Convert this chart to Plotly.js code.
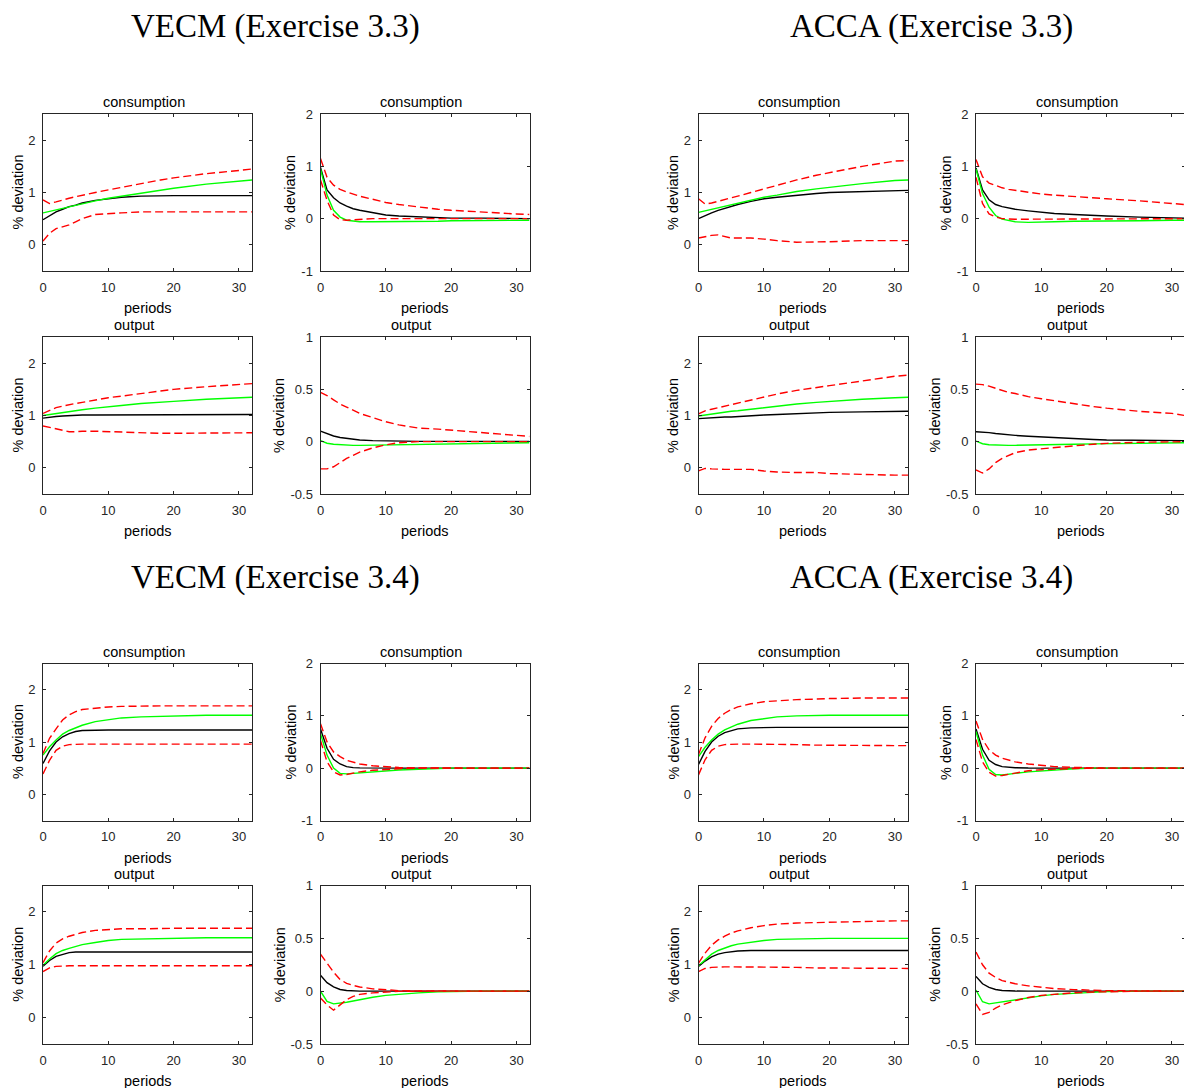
<!DOCTYPE html>
<html>
<head>
<meta charset="utf-8">
<script src="https://cdn.plot.ly/plotly-3.0.1.min.js"></script>
<style>
  html, body { margin: 0; padding: 0; overflow: hidden; background: #ffffff; }
  #chart { width: 1190px; height: 1088px; }
</style>
</head>
<body>
<div id="chart"></div>
<script>
// Impulse-response horizon (periods after the shock)
const periods = [0, 1, 2, 3, 4, 5, 6, 8, 10, 12, 15, 18, 20, 25, 30, 32];

// ---- VECM, Exercise 3.3 ----
const vecm33_consPerm_est   = [0.48, 0.56, 0.63, 0.68, 0.73, 0.76, 0.80, 0.85, 0.88, 0.91, 0.93, 0.94, 0.94, 0.94, 0.94, 0.94];
const vecm33_consPerm_model = [0.61, 0.64, 0.67, 0.70, 0.73, 0.76, 0.78, 0.84, 0.89, 0.93, 0.99, 1.05, 1.08, 1.16, 1.22, 1.24];
const vecm33_consPerm_hi    = [0.86, 0.79, 0.82, 0.86, 0.89, 0.92, 0.95, 1.00, 1.05, 1.10, 1.17, 1.24, 1.28, 1.36, 1.42, 1.45];
const vecm33_consPerm_lo    = [0.07, 0.22, 0.31, 0.35, 0.38, 0.44, 0.50, 0.58, 0.59, 0.61, 0.63, 0.63, 0.63, 0.63, 0.63, 0.63];

const vecm33_consTrans_est   = [0.98, 0.55, 0.40, 0.30, 0.24, 0.19, 0.16, 0.11, 0.07, 0.05, 0.03, 0.02, 0.01, 0.01, 0.00, 0.00];
const vecm33_consTrans_model = [0.95, 0.45, 0.16, 0.03, -0.03, -0.05, -0.06, -0.06, -0.06, -0.06, -0.05, -0.05, -0.04, -0.04, -0.03, -0.03];
const vecm33_consTrans_hi    = [1.15, 0.79, 0.64, 0.56, 0.51, 0.47, 0.43, 0.37, 0.31, 0.27, 0.22, 0.18, 0.16, 0.12, 0.09, 0.08];
const vecm33_consTrans_lo    = [0.74, 0.35, 0.07, -0.02, -0.03, -0.02, -0.01, 0, 0, 0, 0, 0, 0, 0, 0, 0];

const vecm33_outPerm_est   = [0.95, 0.97, 0.98, 0.99, 1.00, 1.00, 1.01, 1.01, 1.01, 1.02, 1.02, 1.02, 1.02, 1.02, 1.02, 1.02];
const vecm33_outPerm_model = [1.00, 1.02, 1.04, 1.06, 1.08, 1.09, 1.11, 1.14, 1.17, 1.19, 1.23, 1.26, 1.27, 1.31, 1.34, 1.35];
const vecm33_outPerm_hi    = [1.04, 1.10, 1.15, 1.18, 1.21, 1.23, 1.25, 1.30, 1.34, 1.37, 1.42, 1.47, 1.50, 1.55, 1.60, 1.61];
const vecm33_outPerm_lo    = [0.80, 0.77, 0.74, 0.71, 0.69, 0.69, 0.70, 0.70, 0.69, 0.68, 0.67, 0.66, 0.66, 0.66, 0.67, 0.67];

const vecm33_outTrans_est   = [0.10, 0.075, 0.054, 0.04, 0.03, 0.022, 0.016, 0.01, 0.006, 0.004, 0.003, 0.003, 0.003, 0.003, 0.003, 0.003];
const vecm33_outTrans_model = [0.01, -0.015, -0.025, -0.03, -0.034, -0.035, -0.035, -0.033, -0.03, -0.027, -0.022, -0.018, -0.016, -0.012, -0.01, -0.01];
const vecm33_outTrans_hi    = [0.47, 0.44, 0.40, 0.36, 0.33, 0.30, 0.27, 0.23, 0.19, 0.16, 0.13, 0.12, 0.11, 0.08, 0.057, 0.05];
const vecm33_outTrans_lo    = [-0.26, -0.26, -0.24, -0.20, -0.16, -0.13, -0.10, -0.06, -0.03, -0.01, 0, 0, 0, 0, 0, 0];

// ---- ACCA, Exercise 3.3 ----
const acca33_consPerm_est   = [0.50, 0.56, 0.61, 0.66, 0.70, 0.74, 0.77, 0.83, 0.88, 0.91, 0.95, 0.98, 1.00, 1.02, 1.04, 1.04];
const acca33_consPerm_model = [0.62, 0.65, 0.68, 0.71, 0.74, 0.77, 0.80, 0.86, 0.91, 0.95, 1.02, 1.07, 1.10, 1.17, 1.23, 1.24];
const acca33_consPerm_hi    = [0.88, 0.78, 0.80, 0.83, 0.86, 0.90, 0.93, 1.00, 1.07, 1.14, 1.24, 1.33, 1.38, 1.50, 1.60, 1.61];
const acca33_consPerm_lo    = [0.13, 0.16, 0.18, 0.19, 0.16, 0.13, 0.13, 0.13, 0.11, 0.08, 0.05, 0.05, 0.06, 0.08, 0.08, 0.08];

const acca33_consTrans_est   = [0.97, 0.55, 0.36, 0.27, 0.23, 0.20, 0.18, 0.15, 0.12, 0.10, 0.08, 0.06, 0.05, 0.03, 0.02, 0.01];
const acca33_consTrans_model = [0.95, 0.48, 0.22, 0.06, -0.01, -0.04, -0.06, -0.07, -0.07, -0.06, -0.05, -0.05, -0.04, -0.04, -0.03, -0.03];
const acca33_consTrans_hi    = [1.13, 0.80, 0.68, 0.63, 0.59, 0.56, 0.54, 0.50, 0.47, 0.45, 0.42, 0.39, 0.38, 0.34, 0.29, 0.27];
const acca33_consTrans_lo    = [0.79, 0.29, 0.09, 0.03, 0.00, -0.01, -0.01, -0.01, -0.01, -0.01, -0.01, -0.01, 0, 0, 0, 0];

const acca33_outPerm_est   = [0.94, 0.95, 0.95, 0.96, 0.97, 0.97, 0.98, 0.99, 1.01, 1.02, 1.04, 1.05, 1.06, 1.07, 1.08, 1.08];
const acca33_outPerm_model = [0.99, 1.01, 1.03, 1.05, 1.06, 1.08, 1.09, 1.12, 1.15, 1.18, 1.22, 1.25, 1.27, 1.31, 1.34, 1.35];
const acca33_outPerm_hi    = [1.03, 1.09, 1.12, 1.15, 1.18, 1.21, 1.24, 1.30, 1.36, 1.41, 1.48, 1.54, 1.57, 1.66, 1.75, 1.77];
const acca33_outPerm_lo    = [-0.06, -0.01, -0.02, -0.03, -0.03, -0.03, -0.03, -0.03, -0.06, -0.08, -0.09, -0.09, -0.11, -0.13, -0.14, -0.14];

const acca33_outTrans_est   = [0.095, 0.093, 0.086, 0.078, 0.07, 0.064, 0.06, 0.052, 0.045, 0.037, 0.027, 0.02, 0.016, 0.012, 0.01, 0.01];
const acca33_outTrans_model = [0.006, -0.02, -0.03, -0.034, -0.035, -0.035, -0.035, -0.034, -0.032, -0.028, -0.024, -0.021, -0.02, -0.015, -0.01, -0.01];
const acca33_outTrans_hi    = [0.55, 0.545, 0.53, 0.51, 0.49, 0.47, 0.46, 0.43, 0.41, 0.39, 0.36, 0.335, 0.32, 0.29, 0.27, 0.25];
const acca33_outTrans_lo    = [-0.27, -0.30, -0.26, -0.20, -0.16, -0.13, -0.105, -0.08, -0.067, -0.055, -0.04, -0.024, -0.016, -0.006, 0, 0];

// ---- VECM, Exercise 3.4 ----
const vecm34_consPerm_est   = [0.59, 0.83, 1.00, 1.10, 1.16, 1.20, 1.22, 1.23, 1.23, 1.23, 1.23, 1.23, 1.23, 1.23, 1.23, 1.23];
const vecm34_consPerm_model = [0.75, 0.91, 1.04, 1.15, 1.22, 1.27, 1.32, 1.39, 1.43, 1.46, 1.48, 1.49, 1.50, 1.51, 1.51, 1.51];
const vecm34_consPerm_hi    = [0.78, 1.07, 1.25, 1.42, 1.52, 1.58, 1.62, 1.65, 1.67, 1.68, 1.69, 1.69, 1.69, 1.69, 1.69, 1.69];
const vecm34_consPerm_lo    = [0.39, 0.65, 0.84, 0.92, 0.95, 0.96, 0.96, 0.96, 0.96, 0.96, 0.96, 0.96, 0.96, 0.96, 0.96, 0.96];

const vecm34_consTrans_est   = [0.75, 0.38, 0.17, 0.08, 0.03, 0.01, 0.005, 0, 0, 0, 0, 0, 0, 0, 0, 0];
const vecm34_consTrans_model = [0.66, 0.25, 0.00, -0.10, -0.11, -0.10, -0.09, -0.07, -0.05, -0.035, -0.02, -0.005, 0, 0, 0, 0];
const vecm34_consTrans_hi    = [0.85, 0.50, 0.31, 0.22, 0.15, 0.11, 0.08, 0.045, 0.025, 0.012, 0.005, 0, 0, 0, 0, 0];
const vecm34_consTrans_lo    = [0.53, 0.12, -0.07, -0.13, -0.12, -0.095, -0.07, -0.04, -0.02, -0.01, 0, 0, 0, 0, 0, 0];

const vecm34_outPerm_est   = [0.97, 1.08, 1.16, 1.20, 1.23, 1.24, 1.24, 1.24, 1.24, 1.24, 1.24, 1.24, 1.24, 1.24, 1.24, 1.24];
const vecm34_outPerm_model = [0.99, 1.11, 1.21, 1.27, 1.31, 1.35, 1.38, 1.42, 1.46, 1.48, 1.49, 1.50, 1.50, 1.51, 1.51, 1.51];
const vecm34_outPerm_hi    = [1.04, 1.26, 1.41, 1.49, 1.54, 1.58, 1.61, 1.65, 1.67, 1.68, 1.68, 1.69, 1.69, 1.69, 1.69, 1.69];
const vecm34_outPerm_lo    = [0.87, 0.94, 0.97, 0.98, 0.98, 0.98, 0.98, 0.98, 0.98, 0.98, 0.98, 0.98, 0.98, 0.98, 0.98, 0.98];

const vecm34_outTrans_est   = [0.15, 0.08, 0.04, 0.016, 0.006, 0.002, 0, 0, 0, 0, 0, 0, 0, 0, 0, 0];
const vecm34_outTrans_model = [0.00, -0.096, -0.12, -0.115, -0.105, -0.093, -0.08, -0.058, -0.04, -0.028, -0.016, -0.006, -0.003, 0, 0, 0];
const vecm34_outTrans_hi    = [0.35, 0.26, 0.18, 0.11, 0.074, 0.055, 0.04, 0.022, 0.01, 0.005, 0.002, 0, 0, 0, 0, 0];
const vecm34_outTrans_lo    = [-0.064, -0.13, -0.18, -0.13, -0.08, -0.05, -0.03, -0.016, -0.006, -0.002, 0, 0, 0, 0, 0, 0];

// ---- ACCA, Exercise 3.4 ----
const acca34_consPerm_est   = [0.57, 0.82, 1.00, 1.11, 1.18, 1.22, 1.25, 1.27, 1.28, 1.28, 1.28, 1.28, 1.28, 1.28, 1.28, 1.28];
const acca34_consPerm_model = [0.72, 0.90, 1.04, 1.15, 1.23, 1.29, 1.34, 1.41, 1.45, 1.48, 1.50, 1.51, 1.51, 1.51, 1.51, 1.51];
const acca34_consPerm_hi    = [0.76, 1.08, 1.30, 1.45, 1.55, 1.62, 1.67, 1.73, 1.77, 1.79, 1.81, 1.82, 1.83, 1.84, 1.84, 1.84];
const acca34_consPerm_lo    = [0.37, 0.66, 0.84, 0.92, 0.95, 0.96, 0.96, 0.96, 0.96, 0.95, 0.95, 0.94, 0.94, 0.93, 0.93, 0.93];

const acca34_consTrans_est   = [0.75, 0.36, 0.15, 0.07, 0.03, 0.015, 0.008, 0.002, 0, 0, 0, 0, 0, 0, 0, 0];
const acca34_consTrans_model = [0.70, 0.25, -0.02, -0.12, -0.13, -0.12, -0.10, -0.07, -0.05, -0.03, -0.01, 0, 0, 0, 0, 0];
const acca34_consTrans_hi    = [0.90, 0.55, 0.35, 0.25, 0.19, 0.15, 0.12, 0.08, 0.05, 0.03, 0.015, 0.005, 0, 0, 0, 0];
const acca34_consTrans_lo    = [0.55, 0.12, -0.08, -0.15, -0.14, -0.12, -0.09, -0.05, -0.03, -0.015, -0.005, 0, 0, 0, 0, 0];

const acca34_outPerm_est   = [0.97, 1.07, 1.15, 1.20, 1.23, 1.25, 1.26, 1.27, 1.27, 1.27, 1.27, 1.27, 1.27, 1.27, 1.27, 1.27];
const acca34_outPerm_model = [0.98, 1.10, 1.20, 1.27, 1.32, 1.36, 1.39, 1.43, 1.46, 1.48, 1.49, 1.50, 1.50, 1.50, 1.50, 1.50];
const acca34_outPerm_hi    = [1.03, 1.22, 1.37, 1.47, 1.54, 1.60, 1.64, 1.70, 1.74, 1.77, 1.79, 1.80, 1.81, 1.82, 1.83, 1.83];
const acca34_outPerm_lo    = [0.87, 0.93, 0.95, 0.96, 0.96, 0.96, 0.96, 0.96, 0.95, 0.95, 0.95, 0.94, 0.94, 0.94, 0.93, 0.93];

const acca34_outTrans_est   = [0.14, 0.07, 0.035, 0.016, 0.007, 0.003, 0.001, 0, 0, 0, 0, 0, 0, 0, 0, 0];
const acca34_outTrans_model = [0.01, -0.10, -0.12, -0.11, -0.10, -0.09, -0.08, -0.06, -0.045, -0.03, -0.018, -0.008, -0.004, 0, 0, 0];
const acca34_outTrans_hi    = [0.37, 0.25, 0.17, 0.13, 0.10, 0.085, 0.07, 0.05, 0.035, 0.025, 0.015, 0.008, 0.005, 0.002, 0, 0];
const acca34_outTrans_lo    = [-0.12, -0.22, -0.20, -0.16, -0.13, -0.11, -0.09, -0.06, -0.04, -0.03, -0.015, -0.008, -0.004, 0, 0, 0];

// Axis scales used by the two columns of each block
const xTicks = [0, 10, 20, 30];
const yPermTicks = [0, 1, 2];
const yConsTransTicks = [-1, 0, 1, 2];
const yOutTransTicks = [-0.5, 0, 0.5, 1];
const yOutTransLabels = ['-0.5', '0', '0.5', '1'];

const blockTitles = ['VECM (Exercise 3.3)', 'ACCA (Exercise 3.3)', 'VECM (Exercise 3.4)', 'ACCA (Exercise 3.4)'];

// ---- page geometry (pixels) ----
const W = 1190, H = 1088;
const colPx = [[43, 252], [320.5, 529.5], [698.5, 908], [976, 1185]];
const rowPx = [[114, 271], [337, 494], [663.5, 820.5], [885.5, 1044]];
const blockTitleY = [27, 577];
const blockTitleX = [275.5, 931];

const TXT = '#262626';
const sansFont = 'Liberation Sans, Arial, Helvetica, sans-serif';

const panels = [
  // block, row (0 = consumption, 1 = output), column (0 = left, 1 = right), series
  {b: 0, r: 0, c: 0, name: 'consumption', s: [vecm33_consPerm_est, vecm33_consPerm_model, vecm33_consPerm_hi, vecm33_consPerm_lo]},
  {b: 0, r: 0, c: 1, name: 'consumption', s: [vecm33_consTrans_est, vecm33_consTrans_model, vecm33_consTrans_hi, vecm33_consTrans_lo]},
  {b: 0, r: 1, c: 0, name: 'output', s: [vecm33_outPerm_est, vecm33_outPerm_model, vecm33_outPerm_hi, vecm33_outPerm_lo]},
  {b: 0, r: 1, c: 1, name: 'output', s: [vecm33_outTrans_est, vecm33_outTrans_model, vecm33_outTrans_hi, vecm33_outTrans_lo]},
  {b: 1, r: 0, c: 0, name: 'consumption', s: [acca33_consPerm_est, acca33_consPerm_model, acca33_consPerm_hi, acca33_consPerm_lo]},
  {b: 1, r: 0, c: 1, name: 'consumption', s: [acca33_consTrans_est, acca33_consTrans_model, acca33_consTrans_hi, acca33_consTrans_lo]},
  {b: 1, r: 1, c: 0, name: 'output', s: [acca33_outPerm_est, acca33_outPerm_model, acca33_outPerm_hi, acca33_outPerm_lo]},
  {b: 1, r: 1, c: 1, name: 'output', s: [acca33_outTrans_est, acca33_outTrans_model, acca33_outTrans_hi, acca33_outTrans_lo]},
  {b: 2, r: 0, c: 0, name: 'consumption', s: [vecm34_consPerm_est, vecm34_consPerm_model, vecm34_consPerm_hi, vecm34_consPerm_lo]},
  {b: 2, r: 0, c: 1, name: 'consumption', s: [vecm34_consTrans_est, vecm34_consTrans_model, vecm34_consTrans_hi, vecm34_consTrans_lo]},
  {b: 2, r: 1, c: 0, name: 'output', s: [vecm34_outPerm_est, vecm34_outPerm_model, vecm34_outPerm_hi, vecm34_outPerm_lo]},
  {b: 2, r: 1, c: 1, name: 'output', s: [vecm34_outTrans_est, vecm34_outTrans_model, vecm34_outTrans_hi, vecm34_outTrans_lo]},
  {b: 3, r: 0, c: 0, name: 'consumption', s: [acca34_consPerm_est, acca34_consPerm_model, acca34_consPerm_hi, acca34_consPerm_lo]},
  {b: 3, r: 0, c: 1, name: 'consumption', s: [acca34_consTrans_est, acca34_consTrans_model, acca34_consTrans_hi, acca34_consTrans_lo]},
  {b: 3, r: 1, c: 0, name: 'output', s: [acca34_outPerm_est, acca34_outPerm_model, acca34_outPerm_hi, acca34_outPerm_lo]},
  {b: 3, r: 1, c: 1, name: 'output', s: [acca34_outTrans_est, acca34_outTrans_model, acca34_outTrans_hi, acca34_outTrans_lo]}
];

const lineStyles = [
  {color: '#000000', width: 1.4},
  {color: '#00ff00', width: 1.4},
  {color: '#ff0000', width: 1.4, dash: '8px,4px'},
  {color: '#ff0000', width: 1.4, dash: '8px,4px'}
];

function axisBase() {
  return {
    showline: true, linecolor: TXT, linewidth: 1, mirror: 'ticks',
    ticks: 'inside', ticklen: 3, tickwidth: 1, tickcolor: TXT,
    showgrid: false, zeroline: false, fixedrange: true,
    tickfont: {family: sansFont, size: 13, color: TXT}
  };
}

const traces = [];
const layout = {
  width: W, height: H,
  margin: {l: 0, r: 0, t: 0, b: 0},
  paper_bgcolor: '#ffffff', plot_bgcolor: '#ffffff',
  showlegend: false,
  annotations: []
};

panels.forEach((p, i) => {
  const n = i + 1;
  const col = colPx[(p.b % 2) * 2 + p.c];
  const row = rowPx[Math.floor(p.b / 2) * 2 + p.r];
  const xa = 'x' + n, ya = 'y' + n;

  p.s.forEach((vals, k) => {
    traces.push({
      type: 'scatter', mode: 'lines', x: periods, y: vals,
      xaxis: xa, yaxis: ya, line: lineStyles[k], hoverinfo: 'skip'
    });
  });

  const xAxis = Object.assign(axisBase(), {
    domain: [col[0] / W, col[1] / W], range: [0, 32],
    tickvals: xTicks, ticktext: xTicks.map(String), anchor: ya,
    ticklabelstandoff: 4
  });
  let yAxis, labelGap;
  if (p.c === 0) {
    yAxis = {range: [-0.5, 2.5], tickvals: yPermTicks, ticktext: yPermTicks.map(String)};
    labelGap = 25;
  } else if (p.r === 0) {
    yAxis = {range: [-1, 2], tickvals: yConsTransTicks, ticktext: yConsTransTicks.map(String)};
    labelGap = 30;
  } else {
    yAxis = {range: [-0.5, 1], tickvals: yOutTransTicks, ticktext: yOutTransLabels};
    labelGap = 41;
  }
  yAxis = Object.assign(axisBase(), yAxis, {
    domain: [(H - row[1]) / H, (H - row[0]) / H], anchor: xa,
    ticklabelstandoff: 4
  });
  layout['xaxis' + (n === 1 ? '' : n)] = xAxis;
  layout['yaxis' + (n === 1 ? '' : n)] = yAxis;

  const cx = (col[0] + col[1]) / 2;
  const cy = (row[0] + row[1]) / 2;
  const titleShift = p.name === 'consumption' ? -4 : -14;
  const textFont = {family: sansFont, size: 14.5, color: '#000000'};

  // panel title
  layout.annotations.push({
    text: p.name, xref: 'paper', yref: 'paper', showarrow: false,
    x: (cx + titleShift) / W, y: (H - (row[0] - 12)) / H,
    xanchor: 'center', yanchor: 'middle', font: textFont
  });
  // x-axis label
  layout.annotations.push({
    text: 'periods', xref: 'paper', yref: 'paper', showarrow: false,
    x: cx / W, y: (H - (row[1] + 37)) / H,
    xanchor: 'center', yanchor: 'middle', font: textFont
  });
  // y-axis label
  layout.annotations.push({
    text: '% deviation', xref: 'paper', yref: 'paper', showarrow: false, textangle: -90,
    x: (col[0] - labelGap) / W, y: (H - cy) / H,
    xanchor: 'center', yanchor: 'middle', font: textFont
  });
});

blockTitles.forEach((t, b) => {
  layout.annotations.push({
    text: t, xref: 'paper', yref: 'paper', showarrow: false,
    x: blockTitleX[b % 2] / W, y: (H - blockTitleY[Math.floor(b / 2)]) / H,
    xanchor: 'center', yanchor: 'middle',
    font: {family: 'Liberation Serif, Times New Roman, serif', size: 33, color: '#000000'}
  });
});

Plotly.newPlot('chart', traces, layout, {displayModeBar: false, staticPlot: true});
</script>
</body>
</html>
